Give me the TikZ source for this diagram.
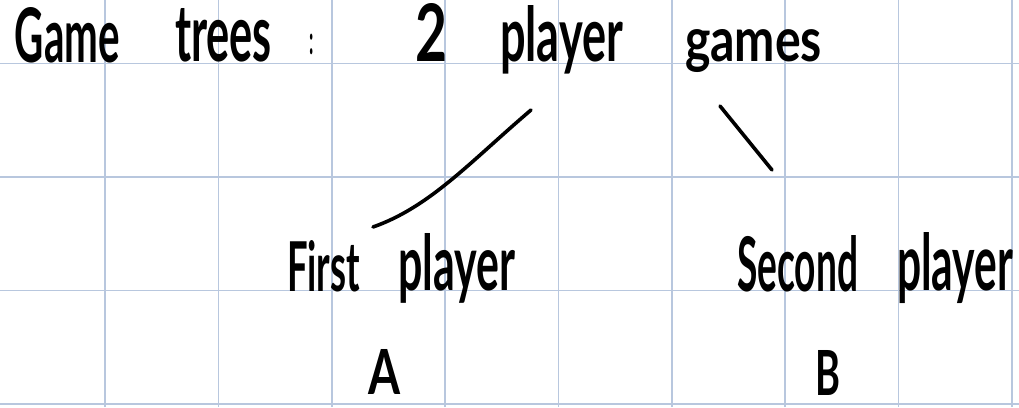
\documentclass[tikz,border=0pt]{standalone}
\usepackage{fontspec}
\setmainfont{Lato}
\usepackage{graphicx}
\definecolor{gridblue}{HTML}{B8C7DE}
\tikzset{
  gridline/.style={draw=gridblue, line width=1.6pt},
  hand/.style={anchor=base west, inner sep=0pt, outer sep=0pt},
  stroke/.style={draw=black, line width=3.6pt, line cap=round, line join=round}
}
\newcommand{\hw}[3]{\resizebox{#1pt}{#2pt}{#3}}
\begin{document}
\begin{tikzpicture}[x=1pt,y=1pt]
\useasboundingbox (0,0) rectangle (1019,407);
\fill[white] (0,0) rectangle (1019,407);
% grid
\foreach \gx in {105,218.3,331.7,445,558.3,671.7,785,898.3,1011.7}
  \draw[gridline] (\gx,0) -- (\gx,407);
\foreach \gy in {63.5,177,290.5,404}
  \draw[gridline] (0,407-\gy) -- (1019,407-\gy);
% title
\node[hand] (game)    at (15,344)  {\hw{105}{55}{\bfseries Game}};
\node[hand] (trees)   at (175,345) {\hw{97}{53}{\bfseries trees}};
\node[hand] (colon)   at (309,352) {\scalebox{1.4}[3.4]{\fontsize{12}{14}\selectfont\bfseries :}};
\node[hand] (two)     at (415,345) {\hw{32}{58}{\bfseries 2}};
\node[hand] (player)  at (500,345) {\hw{123}{56}{\bfseries player}};
\node[hand] (games)   at (685,345) {\hw{137}{32}{\bfseries games}};
% second row
\node[hand] (first)   at (287,115) {\hw{73}{51}{\bfseries First}};
\node[hand] (player1) at (398,116) {\hw{117}{57}{\bfseries player}};
\node[hand] (second)  at (737,115) {\hw{121}{56}{\bfseries Second}};
\node[hand] (player2) at (897,116) {\hw{116}{58}{\bfseries player}};
% letters
\node[hand] (A) at (368,12) {\hw{32}{45}{\bfseries A}};
\node[hand] (B) at (815,11) {\hw{25}{45}{\bfseries B}};
% strokes
\coordinate (s1a) at (531,297);
\coordinate (s1b) at (373,180);
\coordinate (s2a) at (720,301);
\coordinate (s2b) at (772,237);
\draw[stroke] (s1a) .. controls (470,245) and (430,200) .. (s1b);
\draw[stroke] (s2a) -- (s2b);
\end{tikzpicture}
\end{document}
